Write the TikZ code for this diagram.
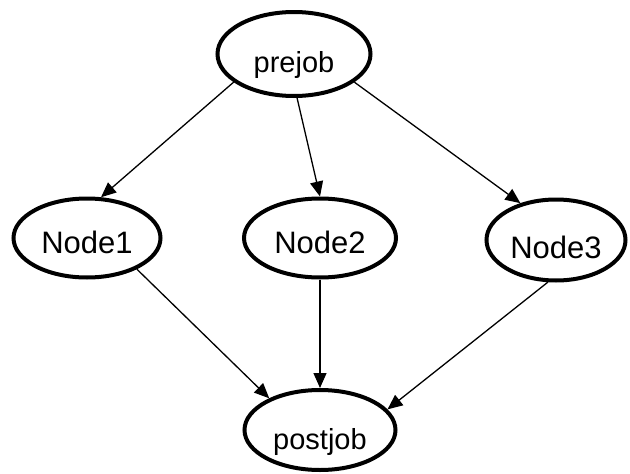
\documentclass[tikz,border=0pt]{standalone}
\usepackage{fontspec}
\setmainfont{Liberation Sans}
\usetikzlibrary{shapes.geometric,arrows.meta}
\tikzset{
  job/.style={ellipse, draw, line width=4pt, inner sep=0pt, minimum width=150pt, minimum height=80pt, text depth=0pt, font=\fontsize{31}{31}\selectfont},
  link/.style={line width=1.3pt, -{Triangle[length=15pt,width=13pt]}}
}
\begin{document}
\begin{tikzpicture}[x=1pt,y=-1pt]
\useasboundingbox (0,0) rectangle (630,474);
\node[job, minimum width=153pt, minimum height=84pt, text height=37pt, font=\fontsize{29}{29}\selectfont] (prejob) at (294,54) {prejob};
\node[job, minimum width=147pt, minimum height=79pt, text height=31pt] (node1) at (87,238) {Node1};
\node[job, minimum width=152pt, minimum height=79pt, text height=31pt] (node2) at (320,238) {Node2};
\node[job, minimum width=139pt, minimum height=81pt, text height=36pt] (node3) at (556,240) {Node3};
\node[job, minimum width=151pt, minimum height=80pt, text height=39pt, font=\fontsize{29}{29}\selectfont] (postjob) at (320,430) {postjob};
\draw[link] (prejob.-155) -- (node1.71);
\draw[link] (prejob.-86) -- (node2.90);
\draw[link] (prejob.-25) -- (node3.134);
\draw[link] (node1.-32) -- (postjob.148);
\draw[link] (node2.-90) -- (postjob.90);
\draw[link] (node3.-101) -- (postjob.17);
\end{tikzpicture}
\end{document}
